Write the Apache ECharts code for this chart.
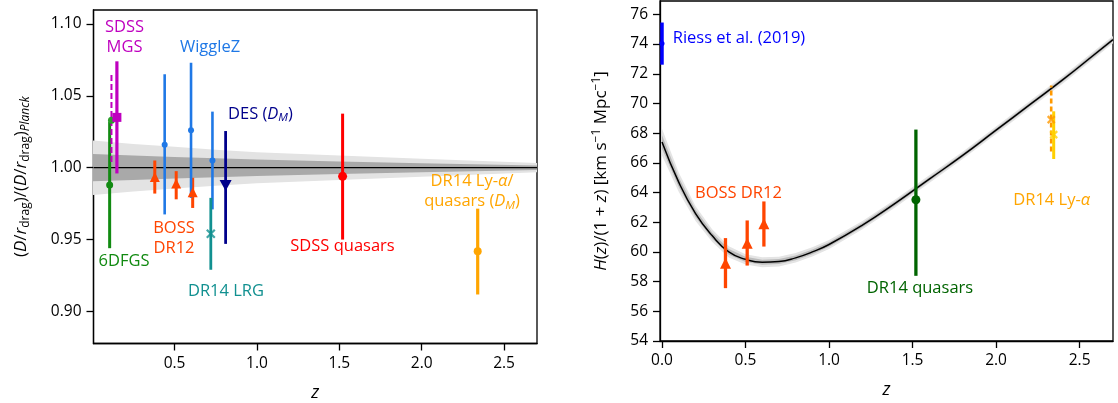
<!DOCTYPE html>
<html>
<head>
<meta charset="utf-8">
<script src="https://cdn.jsdelivr.net/npm/echarts@6/dist/echarts.min.js"></script>
<style>
html, body { margin: 0; padding: 0; background: #fff; }
#chart { width: 1118px; height: 403px; }
</style>
</head>
<body>
<div id="chart"></div>
<script>
// ---- left panel: (D/rdrag)/(D/rdrag)_Planck ----
var bandZ     = [0.0, 0.25, 0.5, 0.75, 1.0, 1.5, 2.0, 2.7];
var bandDark  = [0.0095, 0.0085, 0.0075, 0.0066, 0.0057, 0.0043, 0.0031, 0.0016];
var bandLight = [0.019, 0.0165, 0.0145, 0.0125, 0.0108, 0.0085, 0.0063, 0.0032];

var z6df = [0.106], v6df = [0.988], lo6df = [0.944], hi6df = [1.032];
var z6dfAlt = [0.117], v6dfAlt = [1.033];
var zMgs = [0.15], vMgs = [1.035], loMgs = [0.996], hiMgs = [1.074];
var zMgsAlt = [0.117], loMgsAlt = [1.004], hiMgsAlt = [1.066];
var zBoss = [0.38, 0.51, 0.61], vBoss = [0.9935, 0.989, 0.983];
var loBoss = [0.982, 0.978, 0.972], hiBoss = [1.005, 0.9976, 0.993];
var zWig = [0.44, 0.60, 0.73], vWig = [1.016, 1.026, 1.005];
var loWig = [0.9675, 0.979, 0.971], hiWig = [1.065, 1.073, 1.039];
var zLrg = [0.72], vLrg = [0.954], loLrg = [0.929], hiLrg = [0.979];
var zDes = [0.81], vDes = [0.9877], loDes = [0.947], hiDes = [1.0255];
var zQso = [1.52], vQso = [0.994], loQso = [0.950], hiQso = [1.0376];
var zLya = [2.34], vLya = [0.9418], loLya = [0.9118], hiLya = [0.9715];

// ---- right panel: H(z)/(1+z) ----
var curveZ = [0, 0.1, 0.2, 0.3, 0.4, 0.5, 0.6, 0.7, 0.8, 0.9, 1.0, 1.2, 1.4, 1.6, 1.8, 2.0, 2.2, 2.4, 2.6, 2.7];
var curveH = [67.4, 64.7, 62.6, 61.1, 60.0, 59.5, 59.3, 59.35, 59.6, 60.0, 60.5, 61.8, 63.3, 64.9, 66.5, 68.2, 69.9, 71.6, 73.4, 74.3];
var curveLight = [0.9, 0.65, 0.5, 0.42, 0.38, 0.35, 0.34, 0.33, 0.32, 0.31, 0.3, 0.28, 0.27, 0.26, 0.25, 0.25, 0.25, 0.25, 0.25, 0.25];
var curveDark  = [0.45, 0.33, 0.25, 0.21, 0.19, 0.18, 0.17, 0.17, 0.16, 0.16, 0.15, 0.14, 0.14, 0.13, 0.13, 0.13, 0.13, 0.13, 0.13, 0.13];

var zRiess = [0], vRiess = [74.03], loRiess = [72.61], hiRiess = [75.45];
var zBossH = [0.38, 0.51, 0.61], vBossH = [59.24, 60.58, 61.89];
var loBossH = [57.56, 59.08, 60.36], hiBossH = [60.93, 62.12, 63.40];
var zQsoH = [1.52], vQsoH = [63.51], loQsoH = [58.39], hiQsoH = [68.24];
var zLyaA = [2.33], vLyaA = [68.91], loLyaA = [66.77], hiLyaA = [71.21];
var zLyaB = [2.345], vLyaB = [67.90], loLyaB = [66.26], hiLyaB = [69.47];

var xTicks = [0.5, 1.0, 1.5, 2.0, 2.5];
var xTicksR = [0.0, 0.5, 1.0, 1.5, 2.0, 2.5];
var yTicksL = [0.90, 0.95, 1.00, 1.05, 1.10];
var yTicksR = [54, 56, 58, 60, 62, 64, 66, 68, 70, 72, 74, 76];

var FONT = 'Open Sans';
var myChart = echarts.init(document.getElementById('chart'));

function errorBars(g, zs, lo, hi, color, width, dash) {
	return {
		type: 'custom', xAxisIndex: g, yAxisIndex: g, z: 3, silent: true,
		data: zs.map(function(z, i) { return [z, lo[i], hi[i]]; }),
		encode: { x: 0, y: [1, 2] },
		renderItem: function(params, api) {
			var a = api.coord([api.value(0), api.value(1)]);
			var b = api.coord([api.value(0), api.value(2)]);
			var st = { stroke: color, lineWidth: width };
			if (dash) st.lineDash = dash;
			return { type: 'line', shape: { x1: a[0], y1: a[1], x2: b[0], y2: b[1] }, style: st };
		}
	};
}

function markers(g, zs, vs, symbol, size, color, rotate, stroke) {
	return {
		type: 'scatter', xAxisIndex: g, yAxisIndex: g, z: 4, silent: true,
		symbol: symbol, symbolSize: size, symbolRotate: rotate || 0,
		itemStyle: stroke ? { color: 'none', borderColor: color, borderWidth: 2.2 } : { color: color, opacity: 1 },
		data: zs.map(function(z, i) { return [z, vs[i]]; })
	};
}

function band(g, zs, center, half, color) {
	return {
		type: 'custom', xAxisIndex: g, yAxisIndex: g, z: 1, silent: true, clip: true,
		data: [[zs[0], center[0]]],
		encode: { x: 0, y: 1 },
		renderItem: function(params, api) {
			var pts = [];
			for (var i = 0; i < zs.length; i++) pts.push(api.coord([zs[i], center[i] + half[i]]));
			for (var j = zs.length - 1; j >= 0; j--) pts.push(api.coord([zs[j], center[j] - half[j]]));
			return { type: 'polygon', shape: { points: pts }, style: { fill: color } };
		}
	};
}

function xAxisOf(g, min, max, ticks) {
	return {
		type: 'value', gridIndex: g, min: min, max: max,
		axisLine: { show: true, onZero: false, lineStyle: { color: '#000', width: 1.3 } },
		axisTick: { show: true, length: 7, customValues: ticks, lineStyle: { color: '#000', width: 1.3 } },
		axisLabel: { customValues: ticks, formatter: function(v) { return v.toFixed(1); },
			color: '#000', fontSize: 15.5, fontFamily: FONT, margin: 12 },
		splitLine: { show: false },
		name: 'z', nameLocation: 'middle', nameGap: 40,
		nameTextStyle: { fontStyle: 'italic', fontSize: 18, fontFamily: FONT, color: '#000' }
	};
}

function yAxisOf(g, min, max, ticks, digits, name, gap) {
	return {
		type: 'value', gridIndex: g, min: min, max: max,
		axisLine: { show: true, onZero: false, lineStyle: { color: '#000', width: 1.3 } },
		axisTick: { show: true, length: 7, customValues: ticks, lineStyle: { color: '#000', width: 1.3 } },
		axisLabel: { customValues: ticks, formatter: function(v) { return v.toFixed(digits); },
			color: '#000', fontSize: 15.5, fontFamily: FONT, margin: 12 },
		splitLine: { show: false },
		name: name, nameLocation: 'middle', nameGap: gap, nameRotate: 90,
		nameTextStyle: {
			color: '#000', fontSize: 17, fontFamily: FONT,
			rich: {
				n: { fontSize: 17, fontFamily: FONT, color: '#000' },
				i: { fontSize: 17, fontFamily: FONT, fontStyle: 'italic', color: '#000' },
				s: { fontSize: 12, fontFamily: FONT, color: '#000', padding: [9, 0, 0, 0] },
				si: { fontSize: 12, fontFamily: FONT, fontStyle: 'italic', color: '#000', padding: [9, 0, 0, 0] },
				p: { fontSize: 12, fontFamily: FONT, color: '#000', padding: [0, 0, 9, 0] }
			}
		}
	};
}

var noteRich = {
	i: { fontStyle: 'italic', fontSize: 16.5, fontFamily: FONT },
	s: { fontStyle: 'italic', fontSize: 11.5, fontFamily: FONT, padding: [8, 0, 0, 0] }
};
function note(x, y, text, color, align) {
	return {
		type: 'text', x: x, y: y, z: 20, silent: true,
		style: { text: text, fill: color, fontSize: 16.5, fontFamily: FONT, align: align || 'center',
			verticalAlign: 'middle', lineHeight: 20, rich: noteRich }
	};
}

var option = {
	backgroundColor: '#fff',
	animation: false,
	grid: [
		{ left: 93.5, top: 10, width: 443.5, height: 333.5, show: true, borderColor: '#000', borderWidth: 1.3, outerBoundsMode: 'none' },
		{ left: 660, top: 1, width: 453, height: 340, show: true, borderColor: '#000', borderWidth: 1.3, outerBoundsMode: 'none' }
	],
	xAxis: [
		xAxisOf(0, 0.008, 2.7, xTicks),
		xAxisOf(1, -0.012, 2.7, xTicksR)
	],
	yAxis: [
		yAxisOf(0, 0.8777, 1.1097, yTicksL, 2,
			'{n|(}{i|D}{n|/}{i|r}{s|drag}{n|)/(}{i|D}{n|/}{i|r}{s|drag}{n|)}{si|Planck}', 62),
		yAxisOf(1, 54, 76.9, yTicksR, 0,
			'{i|H}{n|(}{i|z}{n|)/(1 + }{i|z}{n|) [km s}{p|\u22121}{n| Mpc}{p|\u22121}{n|]}', 48)
	],
	series: [
		band(0, bandZ, bandZ.map(function() { return 1; }), bandLight, '#e3e3e3'),
		band(0, bandZ, bandZ.map(function() { return 1; }), bandDark, '#a9a9a9'),
		{
			type: 'line', xAxisIndex: 0, yAxisIndex: 0, z: 2, silent: true, showSymbol: false,
			lineStyle: { color: '#000', width: 1.3 },
			data: [[0.008, 1], [2.7, 1]]
		},
		errorBars(0, z6df, lo6df, hi6df, '#118a11', 3),
		markers(0, z6df, v6df, 'circle', 7, '#118a11'),
		markers(0, z6dfAlt, v6dfAlt, 'circle', 7, '#2ca02c'),
		errorBars(0, zMgsAlt, loMgsAlt, hiMgsAlt, '#bf00bf', 2, [6, 3]),
		errorBars(0, zMgs, loMgs, hiMgs, '#bf00bf', 3.2),
		markers(0, zMgs, vMgs, 'rect', 9, '#bf00bf'),
		errorBars(0, zBoss, loBoss, hiBoss, '#ff4500', 3),
		markers(0, zBoss, vBoss, 'triangle', [10, 10], '#ff4500'),
		errorBars(0, zWig, loWig, hiWig, '#1f78e6', 2.6),
		markers(0, zWig, vWig, 'circle', 6, '#1f78e6'),
		errorBars(0, zLrg, loLrg, hiLrg, '#119090', 2.8),
		markers(0, zLrg, vLrg, 'path://M0,0L10,10M10,0L0,10', 8, '#119090', 0, true),
		errorBars(0, zDes, loDes, hiDes, '#00008b', 2.8),
		markers(0, zDes, vDes, 'triangle', [12, 11], '#00008b', 180),
		errorBars(0, zQso, loQso, hiQso, '#ff0000', 3),
		markers(0, zQso, vQso, 'circle', 9, '#ff0000'),
		errorBars(0, zLya, loLya, hiLya, '#ffa500', 3.2),
		markers(0, zLya, vLya, 'circle', 8, '#ffa500'),

		band(1, curveZ, curveH, curveLight, '#e4e4e4'),
		band(1, curveZ, curveH, curveDark, '#bcbcbc'),
		{
			type: 'line', xAxisIndex: 1, yAxisIndex: 1, z: 2, silent: true, showSymbol: false, smooth: true,
			lineStyle: { color: '#000', width: 1.5 },
			data: curveZ.map(function(z, i) { return [z, curveH[i]]; })
		},
		errorBars(1, zRiess, loRiess, hiRiess, '#0000ff', 3.5),
		markers(1, zRiess, vRiess, 'circle', 5, '#0000ff'),
		errorBars(1, zBossH, loBossH, hiBossH, '#ff4500', 3.3),
		markers(1, zBossH, vBossH, 'triangle', [11, 11], '#ff4500'),
		errorBars(1, zQsoH, loQsoH, hiQsoH, '#006400', 3.3),
		markers(1, zQsoH, vQsoH, 'circle', 9, '#006400'),
		errorBars(1, zLyaA, loLyaA, hiLyaA, '#ff9900', 2.6, [5, 3]),
		markers(1, zLyaA, vLyaA, 'path://M0,0L10,10M10,0L0,10', 7, '#ff9900', 0, true),
		errorBars(1, zLyaB, loLyaB, hiLyaB, '#ffd000', 3),
		markers(1, zLyaB, vLyaB, 'path://M0,0L10,10M10,0L0,10', 7, '#ffd000', 0, true)
	],
	graphic: [
		note(124.5, 37, 'SDSS\nMGS', '#bf00bf'),
		note(210, 47.7, 'WiggleZ', '#1f78e6'),
		note(228, 114, 'DES ({i|D}{s|M})', '#00008b', 'left'),
		note(174, 238, 'BOSS\nDR12', '#ff4500'),
		note(124, 261.7, '6DFGS', '#118a11'),
		note(226, 291, 'DR14 LRG', '#119090'),
		note(342.5, 246.7, 'SDSS quasars', '#ff0000'),
		note(472, 191.5, 'DR14 Ly-{i|\u03b1}/\nquasars ({i|D}{s|M})', '#ffa500'),

		note(672.7, 38.3, 'Riess et al. (2019)', '#0000ff', 'left'),
		note(695, 193.3, 'BOSS DR12', '#ff4500', 'left'),
		note(920, 288.3, 'DR14 quasars', '#006400'),
		note(1051.7, 200, 'DR14 Ly-{i|\u03b1}', '#ffa500')
	]
};

myChart.setOption(option);
</script>
</body>
</html>
